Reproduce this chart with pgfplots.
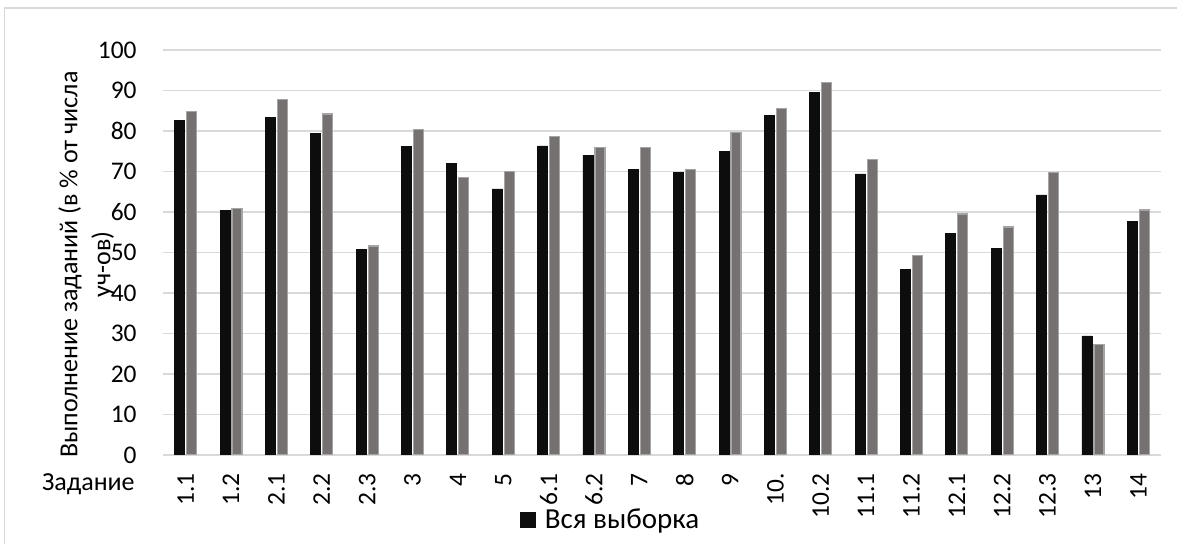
\documentclass[border=0pt]{standalone}
\usepackage{pgfplots}
\pgfplotsset{compat=1.18}
\usepackage{pgfplotstable}
\usepackage{fontspec}
\setmainfont{Carlito}
\definecolor{barblack}{HTML}{0D0D0D}
\definecolor{bargray}{HTML}{767171}
\definecolor{baredge}{HTML}{A5A5A5}
\definecolor{gridc}{HTML}{D9D9D9}
\pgfplotstableread{
x all sub
0 82.6 84.8
1 60.4 60.8
2 83.3 87.8
3 79.5 84.2
4 50.7 51.6
5 76.2 80.3
6 71.9 68.6
7 65.7 69.9
8 76.3 78.7
9 74.0 76.0
10 70.6 75.9
11 69.8 70.5
12 74.9 79.7
13 83.8 85.6
14 89.6 92.0
15 69.4 72.9
16 45.8 49.3
17 54.7 59.5
18 51.1 56.3
19 64.2 69.8
20 29.4 27.3
21 57.6 60.5
}\datatable
\begin{document}
\begin{tikzpicture}
\useasboundingbox (0,0) rectangle (588.5pt,272pt);
\begin{axis}[
  at={(81.5pt,44.5pt)}, anchor=south west,
  scale only axis, width=499pt, height=202.5pt,
  xmin=-0.5, xmax=21.5, ymin=0, ymax=100,
  clip mode=individual,
  ybar=1pt, bar width=5pt,
  font=\fontsize{13}{15.5}\selectfont,
  /pgf/number format/assume math mode=true,
  xtick={0,...,21},
  xticklabels={1.1,1.2,2.1,2.2,2.3,3,4,5,6.1,6.2,7,8,9,10.,10.2,11.1,11.2,12.1,12.2,12.3,13,14},
  xticklabel style={rotate=90, anchor=east, inner sep=0pt, xshift=-9pt, font=\fontsize{12.7}{15}\selectfont},
  ytick={0,10,...,100},
  yticklabel style={anchor=east, inner sep=0pt, xshift=-13pt, font=\fontsize{12.7}{15}\selectfont},
  axis line style={draw=none},
  major tick length=0pt,
  ymajorgrids, grid style={gridc, line width=0.8pt},
  ylabel={Выполнение заданий (в \% от числа\\[1pt]уч-ов)},
  ylabel style={at={(axis description cs:-0.0767,0.47)}, anchor=center, align=center},
  legend style={at={(axis description cs:0.3577,-0.1605)}, anchor=west, draw=none, fill=none, inner sep=0pt, font=\fontsize{14.5}{17}\selectfont},
]
\addplot[fill=barblack, draw=barblack, legend image code/.code={\fill[barblack] (0pt,-3.75pt) rectangle (7.5pt,3.75pt); \path[draw=none,fill=none] (10pt,0pt);}] table[x=x, y=all] {\datatable};
\addlegendentry{Вся выборка}
\addplot[fill=bargray, draw=baredge, line width=0.6pt] table[x=x, y=sub] {\datatable};
\node[anchor=east, inner sep=0pt, font=\fontsize{13}{15.5}\selectfont] at (axis description cs:-0.028,-0.072) {Задание};
\end{axis}
\draw[gridc, line width=0.75pt] (2.25pt,-5pt) -- (2.25pt,268pt) -- (600pt,268pt);
\end{tikzpicture}
\end{document}
